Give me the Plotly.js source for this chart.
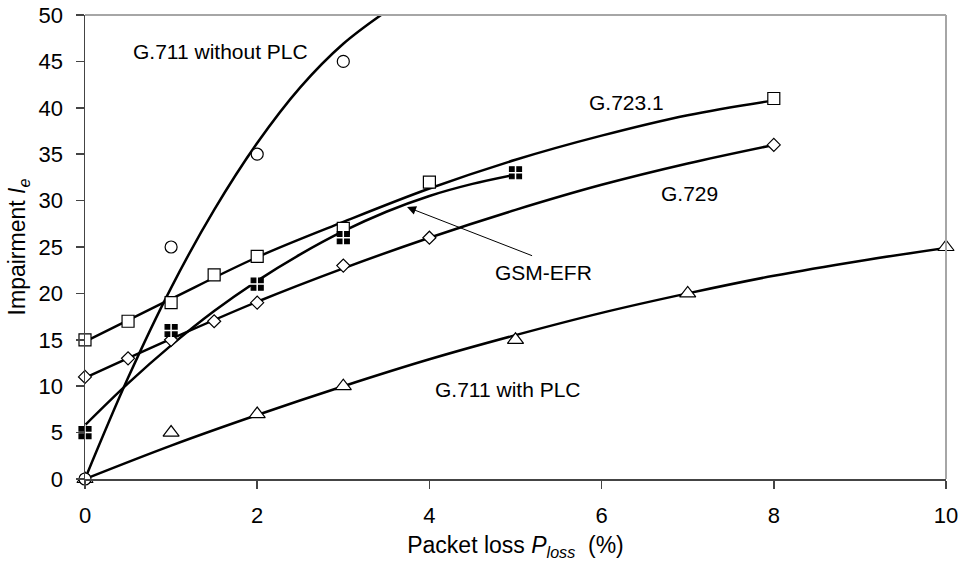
<!DOCTYPE html>
<html>
<head>
<meta charset="utf-8">
<script src="https://cdn.plot.ly/plotly-3.0.1.min.js"></script>
<style>
html,body{margin:0;padding:0;background:#fff;}
#chart{width:962px;height:565px;}
</style>
</head>
<body>
<div id="chart"></div>
<script>
// Measured points
const g711noX = [0, 1, 2, 3];
const g711noY = [0, 25, 35, 45];
const g7231X = [0, 0.5, 1, 1.5, 2, 3, 4, 8];
const g7231Y = [15, 17, 19, 22, 24, 27, 32, 41];
const g729X = [0, 0.5, 1, 1.5, 2, 3, 4, 8];
const g729Y = [11, 13, 15, 17, 19, 23, 26, 36];
const gsmX = [0, 1, 2, 3, 5];
const gsmY = [5, 16, 21, 26, 33];
const g711plcX = [0, 1, 2, 3, 5, 7, 10];
const g711plcY = [0, 5, 7, 10, 15, 20, 25];

// Trend curves
const trNoX = [0, 0.5, 1, 1.5, 2, 2.5, 3, 3.5];
const trNoY = [0, 10.9, 20.6, 29.0, 36.2, 42.2, 46.9, 50.4];
const tr7231X = [0, 1, 2, 3, 4, 5, 6, 7, 8];
const tr7231Y = [14.8, 19.4, 23.9, 27.7, 31.3, 34.4, 37.0, 39.2, 40.8];
const tr729X = [0, 1, 2, 3, 4, 5, 6, 7, 8];
const tr729Y = [10.9, 15.1, 19.1, 22.7, 26.0, 29.0, 31.7, 34.0, 36.0];
const trGsmX = [0, 0.5, 1, 1.5, 2, 2.5, 3, 3.5, 4, 4.5, 5];
const trGsmY = [5.8, 10.3, 14.4, 18.1, 21.35, 24.2, 26.7, 28.8, 30.5, 31.8, 32.8];
const trPlcX = [0, 1, 2, 3, 4, 5, 6, 7, 8, 9, 10];
const trPlcY = [0, 3.6, 6.9, 10.0, 12.9, 15.5, 17.9, 20.0, 21.9, 23.5, 24.9];

// Tick values
const xTicks = [0, 2, 4, 6, 8, 10];
const yTicks = [0, 5, 10, 15, 20, 25, 30, 35, 40, 45, 50];

const FONT = 'Arial, "Liberation Sans", sans-serif';

function curve(x, y) {
  return {x: x, y: y, type: 'scatter', mode: 'lines', showlegend: false,
    hoverinfo: 'skip', line: {color: '#000', width: 2.5, shape: 'spline', smoothing: 1}};
}
function pts(x, y, symbol, size, fill) {
  return {x: x, y: y, type: 'scatter', mode: 'markers', showlegend: false, cliponaxis: false,
    marker: {symbol: symbol, size: size, color: fill, line: {color: '#000', width: 1.2}}};
}

const traces = [
  curve(trNoX, trNoY),
  curve(tr7231X, tr7231Y),
  curve(tr729X, tr729Y),
  curve(trGsmX, trGsmY),
  curve(trPlcX, trPlcY),
  pts(g711plcX, g711plcY, 'triangle-up', 14, '#fff'),
  pts(g711noX, g711noY, 'circle', 12, '#fff'),
  pts(g7231X, g7231Y, 'square', 12, '#fff'),
  pts(g729X, g729Y, 'diamond', 10, '#fff'),
  pts(gsmX, gsmY, 'square', 12, '#000'),
  {x: gsmX, y: gsmY, type: 'scatter', mode: 'markers', showlegend: false, cliponaxis: false,
   hoverinfo: 'skip', marker: {symbol: 'cross-thin', size: 12, line: {color: '#fff', width: 1.5}}}
];

function label(text, x, y) {
  return {text: text, x: x, y: y, xref: 'x', yref: 'y', showarrow: false,
    font: {family: FONT, size: 21, color: '#000'}};
}

const layout = {
  width: 962, height: 565,
  margin: {l: 85, r: 16, t: 15, b: 86},
  paper_bgcolor: '#fff', plot_bgcolor: '#fff',
  font: {family: FONT, size: 21, color: '#000'},
  xaxis: {
    range: [0, 10], tickvals: xTicks, ticktext: xTicks.map(String),
    showgrid: false, zeroline: false,
    showline: true, linecolor: '#444', linewidth: 1.5,
    ticks: 'outside', ticklen: 8, tickcolor: '#444', tickwidth: 1.5,
    ticklabelstandoff: 8,
    tickfont: {family: FONT, size: 22, color: '#000'},
    title: {text: 'Packet loss <i>P</i><sub><i>loss</i></sub>  (%)', font: {family: FONT, size: 23, color: '#000'}, standoff: 10}
  },
  yaxis: {
    range: [0, 50], tickvals: yTicks, ticktext: yTicks.map(String),
    showgrid: false, zeroline: false,
    showline: true, linecolor: '#444', linewidth: 1.5,
    ticks: 'outside', ticklen: 8, tickcolor: '#444', tickwidth: 1.5,
    ticklabelstandoff: 8,
    tickfont: {family: FONT, size: 22, color: '#000'},
    title: {text: 'Impairment <i>I</i><sub><i>e</i></sub>', font: {family: FONT, size: 23, color: '#000'}, standoff: 6}
  },
  shapes: [
    {type: 'line', xref: 'paper', yref: 'paper', x0: 0, x1: 1, y0: 1, y1: 1, line: {color: '#a6a6a6', width: 2}},
    {type: 'line', xref: 'paper', yref: 'paper', x0: 1, x1: 1, y0: 0, y1: 1, line: {color: '#a6a6a6', width: 2}}
  ],
  annotations: [
    label('G.711 without PLC', 1.57, 46.1),
    label('G.723.1', 6.29, 40.6),
    label('G.729', 7.02, 30.8),
    label('GSM-EFR', 5.33, 22.3),
    label('G.711 with PLC', 4.91, 9.6),
    {x: 3.74, y: 29.3, ax: 5.21, ay: 24.0, xref: 'x', yref: 'y', axref: 'x', ayref: 'y',
     text: '', showarrow: true, arrowhead: 2, arrowsize: 1.8, arrowwidth: 1, arrowcolor: '#000'}
  ]
};

Plotly.newPlot('chart', traces, layout, {displayModeBar: false, staticPlot: true});
</script>
</body>
</html>
